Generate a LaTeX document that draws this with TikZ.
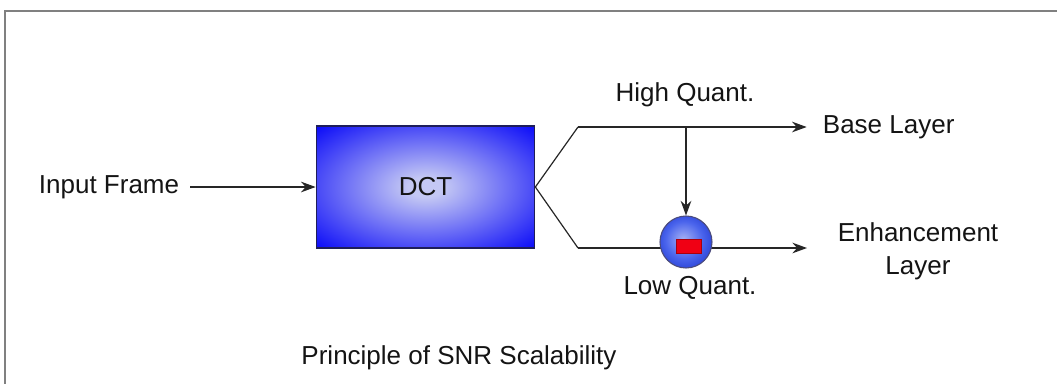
\documentclass[tikz,border=0pt]{standalone}
\usepackage{fontspec}
\setmainfont{Liberation Sans}
\usepackage{tikz}
\usetikzlibrary{positioning,calc,arrows.meta,shapes.geometric}
\definecolor{cFrame}{HTML}{808080}
\definecolor{cInk}{HTML}{141414}
\definecolor{cLine}{HTML}{262626}
\definecolor{cBlue}{HTML}{0000F8}
\definecolor{cGlow}{HTML}{C4C8F4}
\definecolor{cBallIn}{HTML}{A4B0F4}
\definecolor{cBallMid}{HTML}{4A64EC}
\definecolor{cBallOut}{HTML}{2038D0}
\definecolor{cEdge}{HTML}{1E1E5A}
\definecolor{cRed}{HTML}{F00014}
\pgfdeclareradialshading{dctglow}{\pgfpoint{0bp}{0bp}}{color(0bp)=(cGlow); color(4bp)=(cGlow); color(37bp)=(cBlue); color(50bp)=(cBlue)}
\pgfdeclareradialshading{ballglow}{\pgfpoint{-3bp}{3bp}}{color(0bp)=(cBallIn); color(18bp)=(cBallMid); color(32bp)=(cBallOut); color(50bp)=(cBallOut)}
\tikzset{
  lbl/.style={font=\fontsize{19.5}{24.75}\selectfont,text=cInk,inner sep=2pt},
  dctbox/.style={rectangle,draw=cEdge,line width=0.8pt,shading=dctglow,minimum width=164pt,minimum height=91.5pt,inner sep=0pt},
  quantball/.style={circle,draw=cEdge!80,line width=0.8pt,shading=ballglow,minimum size=39pt,inner sep=0pt},
  minusbar/.style={rectangle,fill=cRed,draw=cRed!70!black,line width=0.3pt,minimum width=18.5pt,minimum height=10.5pt,inner sep=0pt},
  flow/.style={->,>={Stealth[length=11pt,width=8pt]},line width=0.9pt,cLine},
  wire/.style={line width=0.9pt,cLine},
  frame/.style={draw=cFrame,line cap=rect},
}
\begin{document}
\begin{tikzpicture}[x=0.75pt,y=-0.75pt]
  \useasboundingbox (0,0) rectangle (1057,383);
  \draw[frame,line width=1.2pt] (5,383) -- (5,11);
  \draw[frame,line width=2pt] (5,11) -- (1057,11);
  % input side
  \node[lbl,anchor=west] (inp) at (36,187) {Input Frame};
  \node[dctbox] (dct) at (425.5,187) {};
  \node[lbl] (dctlbl) at (dct.center) {DCT};
  \draw[flow] ([xshift=6pt]inp.east) -- (dct.west);
  % fork to the two layers
  \coordinate (forkhi) at (578,127);
  \coordinate (forklo) at (578,248);
  \coordinate (tap) at (686,127);
  \coordinate (enhtip) at (807,248);
  \node[lbl,anchor=west] (base) at (820,127) {Base Layer};
  \node[lbl,align=center] (enh) at (918,251) {Enhancement\\Layer};
  \draw[wire] (dct.east) -- (forkhi);
  \draw[wire] (dct.east) -- (forklo);
  \draw[flow] (forkhi) -- ([xshift=-10pt]base.west);
  \draw[flow] (forklo) -- (enhtip);
  \node[quantball] (lowq) at (686,242) {};
  \node[minusbar] (minus) at (689,246) {};
  \draw[flow] (tap) -- (lowq.north);
  \node[lbl] (highlbl) at (685,95) {High Quant.};
  \node[lbl] (lowlbl) at (690,288) {Low Quant.};
  \node[lbl] (title) at (459,358) {Principle of SNR Scalability};
\end{tikzpicture}
\end{document}
